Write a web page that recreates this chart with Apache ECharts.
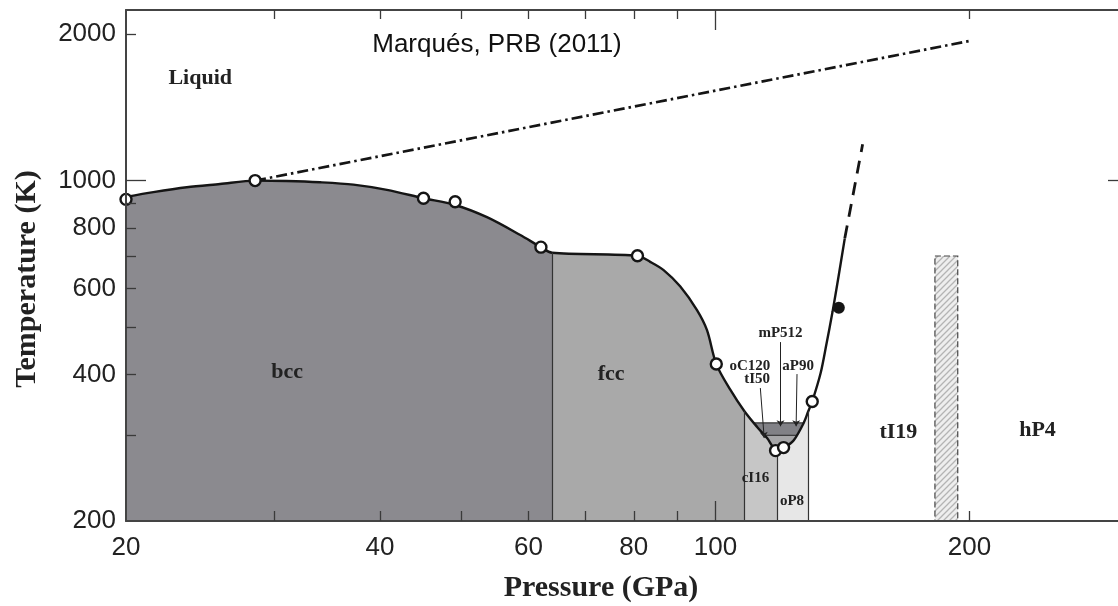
<!DOCTYPE html>
<html>
<head>
<meta charset="utf-8">
<script src="https://cdn.jsdelivr.net/npm/echarts@6/dist/echarts.min.js"></script>
<style>
  html, body { margin: 0; padding: 0; background: #ffffff; }
  #chart { width: 1118px; height: 606px; }
</style>
</head>
<body>
<div id="chart"></div>
<script>
// ---- Sodium phase diagram: pressure (GPa) vs temperature (K) ----

// Melting curve (solid part)
const meltP = [20, 21.55, 23.61, 25.85, 28.45, 31.0, 33.98, 37.21, 40.77, 45.05, 49.12, 53.58, 58.68, 62.08, 64.0,
               80.8, 83.66, 86.78, 90.83, 95.06, 97.69, 100.2, 104.1, 108.2, 112.0, 115.1, 118.3, 121.0, 123.8,
               127.2, 128.8, 130.2, 133.2, 135.3, 137.6, 139.8, 142.3];
const meltT = [926, 947, 969, 984, 1000, 998, 992, 981, 957, 920, 891, 841, 773, 730, 711,
               701, 681, 655, 606, 542, 493, 420, 372, 336, 312, 296, 279, 284, 293,
               318, 336, 352, 402, 460, 537, 631, 761];

// Measured melting points (open circles) and the filled point
const openP = [20, 28.45, 45.05, 49.12, 62.08, 80.8, 100.2, 117.8, 120.4, 130.2];
const openT = [915, 1000, 920, 905, 730, 701, 420, 279, 283, 352];
const filledP = [140.0];
const filledT = [548];

// Liquid-state boundary (dash-dot) and extrapolated melting line (dashed)
const liquidP = [28.45, 200];
const liquidT = [1000, 1935];
const extP = [142.3, 149.4];
const extT = [761, 1187];

// Solid phases separated along pressure
const phaseNames = ['bcc', 'fcc', 'cI16', 'oP8'];
const phaseEdges = [20, 64, 108.2, 118.3, 128.8];

// Complex structures inside the melting minimum
const bandP = [109.5, 128];
const bandT = [200, 300, 318];

// Transition zone (hatched)
const hatchP = [182, 193.7];
const hatchT = [200, 700];

// Axis ticks
const xTickLabels = [20, 40, 60, 80, 100, 200];
const xMinorTicks = [30, 40, 50, 60, 70, 80, 90, 200];
const xMajorTicks = [100];
const yTickLabels = [200, 400, 600, 800, 1000, 2000];
const yMinorTicks = [300, 400, 500, 600, 700, 800, 900, 2000];
const yMajorTicks = [1000];

// Phase names and structure labels
const labelText = ['Liquid', 'bcc', 'fcc', 'tI19', 'hP4', 'cI16', 'oP8', 'mP512', 'oC120', 'tI50', 'aP90'];
const labelP = [24.49, 31.05, 75.2, 164.7, 240.8, 111.5, 123.2, 119.4, 109.8, 112.0, 125.3];
const labelT = [1624, 404.5, 400.6, 304.6, 307.6, 244.8, 219.9, 487, 416, 390.8, 416];

// Pointer arrows from structure labels
const arrowFromP = [119.4, 113.0, 124.9];
const arrowFromT = [466, 375, 400.6];
const arrowToP = [119.4, 114.2, 124.6];
const arrowToT = [313, 296, 313];

// ---- styling ----
const phaseColor = { bcc: '#8b8a8f', fcc: '#a9a9a9', cI16: '#c6c6c6', oP8: '#e7e7e7' };
const bandFill = ['#a6a6a8', '#818186'];
const ink = '#151515';
const serif = "'Liberation Serif', 'DejaVu Serif', serif";
const sans = "'Liberation Sans', Arial, sans-serif";

function hatchCanvas() {
  const c = document.createElement('canvas');
  c.width = 6; c.height = 6;
  const g = c.getContext('2d');
  g.fillStyle = '#eeeeee';
  g.fillRect(0, 0, 6, 6);
  g.strokeStyle = '#b4b4b4';
  g.lineWidth = 1.3;
  g.beginPath();
  g.moveTo(0, 6); g.lineTo(6, 0);
  g.moveTo(-1, 1); g.lineTo(1, -1);
  g.moveTo(5, 7); g.lineTo(7, 5);
  g.stroke();
  return c;
}
const hatchImg = hatchCanvas();

const X_MIN = 20, X_MAX = 300, Y_MIN = 200, Y_MAX = 2240;

function logAxisX(extra) {
  return Object.assign({
    type: 'log', logBase: 10, min: X_MIN, max: X_MAX, gridIndex: 0, z: 10,
    splitLine: { show: false }, minorTick: { show: false },
    axisLine: { show: false },
    axisLabel: { show: false },
    axisTick: { show: false }
  }, extra);
}
function logAxisY(extra) {
  return Object.assign({
    type: 'log', logBase: 10, min: Y_MIN, max: Y_MAX, gridIndex: 0, z: 10,
    splitLine: { show: false }, minorTick: { show: false },
    axisLine: { show: false },
    axisLabel: { show: false },
    axisTick: { show: false }
  }, extra);
}
const tickStyle = { color: '#3a3a3a', width: 1.3 };
const frameStyle = { color: '#444', width: 2 };
const labelStyle = { show: true, color: '#222', fontFamily: sans, fontSize: 26, formatter: v => String(v) };

const xAxes = [
  logAxisX({ position: 'bottom', axisLine: { show: true, onZero: false, lineStyle: frameStyle },
    axisTick: { show: true, inside: true, length: 10, customValues: xMinorTicks, lineStyle: tickStyle },
    axisLabel: Object.assign({ customValues: xTickLabels, margin: 14 }, labelStyle) }),
  logAxisX({ position: 'bottom',
    axisTick: { show: true, inside: true, length: 20, customValues: xMajorTicks, lineStyle: tickStyle } }),
  logAxisX({ position: 'top', axisLine: { show: true, onZero: false, lineStyle: frameStyle },
    axisTick: { show: true, inside: true, length: 9, customValues: xMinorTicks, lineStyle: tickStyle } }),
  logAxisX({ position: 'top',
    axisTick: { show: true, inside: true, length: 20, customValues: xMajorTicks, lineStyle: tickStyle } })
];
const yAxes = [
  logAxisY({ position: 'left', axisLine: { show: true, onZero: false, lineStyle: frameStyle },
    axisTick: { show: true, inside: true, length: 10, customValues: yMinorTicks, lineStyle: tickStyle },
    axisLabel: Object.assign({ customValues: yTickLabels, margin: 10 }, labelStyle) }),
  logAxisY({ position: 'left',
    axisTick: { show: true, inside: true, length: 20, customValues: yMajorTicks, lineStyle: tickStyle } }),
  logAxisY({ position: 'right',
    axisTick: { show: true, inside: true, length: 10, customValues: yMajorTicks, lineStyle: tickStyle } })
];

const pts = (ps, ts) => ps.map((p, i) => [p, ts[i]]);

// Rectangles drawn through the axes' scales
function rectRender(styleFor) {
  return function (params, api) {
    const a = api.coord([api.value(0), api.value(3)]);
    const b = api.coord([api.value(1), api.value(2)]);
    return {
      type: 'rect',
      shape: { x: a[0], y: a[1], width: b[0] - a[0], height: b[1] - a[1] },
      style: styleFor(params.dataIndex)
    };
  };
}

const series = [
  // 0: bands within the melting minimum
  {
    type: 'custom', name: 'bands', coordinateSystem: 'cartesian2d',
    encode: { x: [0, 1], y: [2, 3] },
    data: [[bandP[0], bandP[1], bandT[0], bandT[1]], [bandP[0], bandP[1], bandT[1], bandT[2]]],
    renderItem: rectRender(i => ({ fill: bandFill[i], stroke: '#333', lineWidth: 1.2 })),
    silent: true, z: 1
  },
  // 1: melting curve, area below coloured by phase
  {
    type: 'line', name: 'melting', data: pts(meltP, meltT),
    smooth: 0.3, showSymbol: false, symbol: 'none',
    lineStyle: { color: ink, width: 2.4 },
    areaStyle: { opacity: 1, origin: 'start' },
    silent: true, z: 2
  },
  // 2: phase boundaries
  {
    type: 'lines', coordinateSystem: 'cartesian2d', name: 'boundaries',
    data: phaseEdges.slice(1).map(p => ({ coords: [[p, Y_MIN], [p, meltT[meltP.indexOf(p)]]] })),
    lineStyle: { color: '#333', width: 1.2, opacity: 1 },
    silent: true, z: 3
  },
  // 3: hatched zone
  {
    type: 'custom', name: 'hatched', coordinateSystem: 'cartesian2d',
    encode: { x: [0, 1], y: [2, 3] },
    data: [[hatchP[0], hatchP[1], hatchT[0], hatchT[1]]],
    renderItem: rectRender(() => ({
      fill: { image: hatchImg, repeat: 'repeat' },
      stroke: '#444', lineWidth: 1.2, lineDash: [6, 3]
    })),
    silent: true, z: 3
  },
  // 4: liquid boundary
  {
    type: 'line', name: 'liquid', data: pts(liquidP, liquidT), showSymbol: false, symbol: 'none',
    lineStyle: { color: ink, width: 2.7, type: [11, 4, 2.5, 4] }, silent: true, z: 4
  },
  // 5: extrapolated melting line
  {
    type: 'line', name: 'extrapolated', data: pts(extP, extT), showSymbol: false, symbol: 'none',
    lineStyle: { color: ink, width: 2.8, type: [13, 9] }, silent: true, z: 4
  },
  // 6: pointer arrows
  {
    type: 'lines', coordinateSystem: 'cartesian2d', name: 'arrows',
    symbol: ['none', 'arrow'], symbolSize: 6,
    data: arrowFromP.map((p, i) => ({ coords: [[p, arrowFromT[i]], [arrowToP[i], arrowToT[i]]] })),
    lineStyle: { color: '#222', width: 1, opacity: 1 },
    silent: true, z: 5
  },
  // 7: open circles
  {
    type: 'scatter', name: 'measured', data: pts(openP, openT), symbol: 'circle', symbolSize: 11,
    itemStyle: { color: '#ffffff', borderColor: ink, borderWidth: 2.4, opacity: 1 },
    clip: false, silent: true, z: 6
  },
  // 8: filled circle
  {
    type: 'scatter', name: 'filled', data: pts(filledP, filledT), symbol: 'circle', symbolSize: 12,
    itemStyle: { color: ink, opacity: 1 }, clip: false, silent: true, z: 6
  },
  // 9: text labels placed in data coordinates
  {
    type: 'custom', name: 'labels', coordinateSystem: 'cartesian2d',
    encode: { x: 0, y: 1 },
    data: labelText.map((t, i) => [labelP[i], labelT[i], i]),
    renderItem: function (params, api) {
      const i = params.dataIndex;
      const c = api.coord([api.value(0), api.value(1)]);
      const big = i < 5;
      return {
        type: 'text', x: c[0], y: c[1],
        style: {
          text: labelText[i],
          font: 'bold ' + (big ? 22 : 15) + 'px ' + serif,
          fill: '#222',
          align: 'center', verticalAlign: 'middle',
          textAlign: 'center', textVerticalAlign: 'middle'
        }
      };
    },
    silent: true, z: 7
  }
];

const chart = echarts.init(document.getElementById('chart'), null, { renderer: 'canvas' });
chart.setOption({
  backgroundColor: '#ffffff',
  animation: false,
  grid: { left: 126, right: 0, top: 10, bottom: 85, containLabel: false },
  xAxis: xAxes,
  yAxis: yAxes,
  visualMap: {
    type: 'piecewise', show: false, dimension: 0, seriesIndex: 1,
    pieces: phaseNames.map((n, i) => ({ gte: phaseEdges[i], lt: phaseEdges[i + 1], color: phaseColor[n] })),
    outOfRange: { color: '#ffffff' }
  },
  graphic: [
    {
      type: 'text', x: 497, y: 45, z: 20,
      style: { text: 'Marqués, PRB (2011)', font: '26px ' + sans, fill: '#111',
               align: 'center', verticalAlign: 'middle', textAlign: 'center', textVerticalAlign: 'middle' }
    },
    {
      type: 'text', x: 601, y: 588, z: 20,
      style: { text: 'Pressure (GPa)', font: 'bold 30px ' + serif, fill: '#222',
               align: 'center', verticalAlign: 'middle', textAlign: 'center', textVerticalAlign: 'middle' }
    },
    {
      type: 'text', x: 27, y: 279, rotation: Math.PI / 2, z: 20,
      style: { text: 'Temperature (K)', font: 'bold 30px ' + serif, fill: '#222',
               align: 'center', verticalAlign: 'middle', textAlign: 'center', textVerticalAlign: 'middle' }
    }
  ],
  series: series
});
</script>
</body>
</html>
